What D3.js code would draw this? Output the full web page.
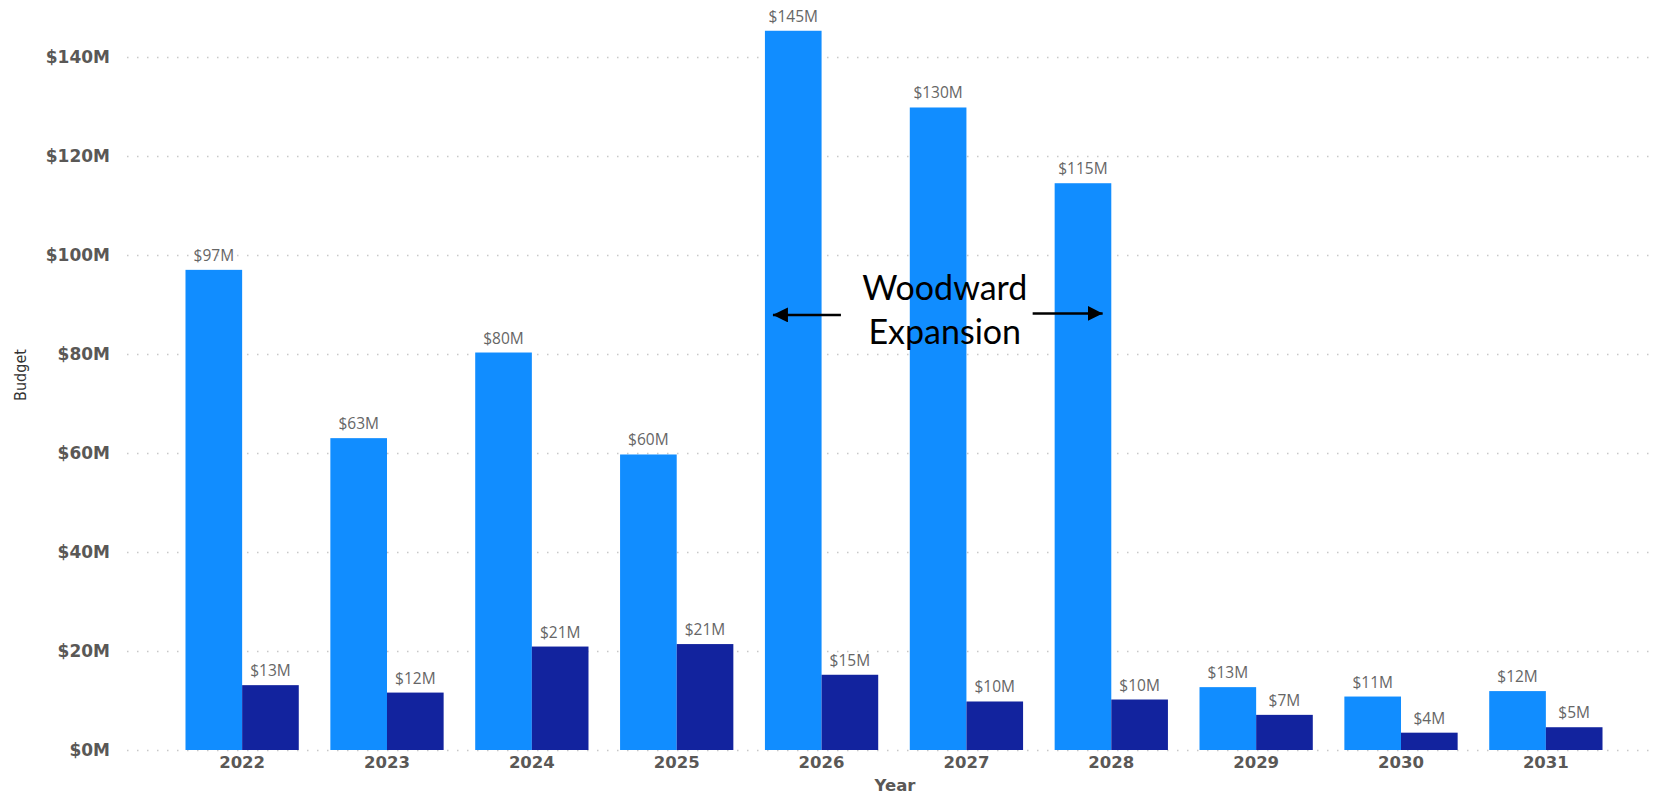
<!DOCTYPE html>
<html>
<head>
<meta charset="utf-8">
<script src="https://cdn.jsdelivr.net/npm/d3@7"></script>
<style>
  body { margin: 0; background: #fff; }
  svg { display: block; }
</style>
</head>
<body>
<svg id="canvas" width="1665" height="796"></svg>
<script>
// data (millions)
var years = ["2022", "2023", "2024", "2025", "2026", "2027", "2028", "2029", "2030", "2031"];
var seriesA = [97.0, 63.0, 80.3, 59.7, 145.3, 129.8, 114.5, 12.7, 10.8, 11.9];
var seriesB = [13.1, 11.6, 20.9, 21.4, 15.2, 9.8, 10.2, 7.1, 3.5, 4.6];
var yTicks = [0, 20, 40, 60, 80, 100, 120, 140];
var noteLines = ["Woodward", "Expansion"];

function drawChart() {
    "use strict";

    var svg = d3.select(document.getElementById('canvas'));
    var left = 129, right = 1659, bottom = 750;

    var x = d3.scaleBand().domain(years).range([left, right])
        .paddingInner(0.218).paddingOuter(0.39);
    var xSub = d3.scaleBand().domain(["a", "b"]).range([0, x.bandwidth()]);
    var y = d3.scaleLinear().domain([0, 148.5]).range([bottom, bottom - 148.5 * 4.95]);

    var rows = years.map(function(yr, i) {
        return {year: yr, a: seriesA[i], b: seriesB[i]};
    });

    // gridlines (dotted)
    svg.append('g').selectAll('line')
        .data(yTicks)
        .enter().append('line')
        .attr('x1', 127).attr('x2', 1656)
        .attr('y1', function(d) { return y(d) + 0.5; })
        .attr('y2', function(d) { return y(d) + 0.5; })
        .attr('stroke', '#c8c8c8')
        .attr('stroke-width', 1.5)
        .attr('stroke-dasharray', '1.5,8.5');

    // y tick labels
    svg.append('g').selectAll('text')
        .data(yTicks)
        .enter().append('text')
        .attr('x', 110)
        .attr('y', function(d) { return y(d); })
        .attr('dy', '0.36em')
        .attr('text-anchor', 'end')
        .attr('font-family', 'DejaVu Sans')
        .attr('font-weight', 'bold')
        .attr('font-size', 17)
        .attr('fill', '#5a5856')
        .text(function(d) { return '$' + d + 'M'; });

    // bars
    var groups = svg.append('g').selectAll('g')
        .data(rows)
        .enter().append('g')
        .attr('transform', function(d) { return 'translate(' + x(d.year) + ',0)'; });

    var fills = {a: '#118dff', b: '#12239e'};
    ['a', 'b'].forEach(function(k) {
        groups.append('rect')
            .attr('x', xSub(k))
            .attr('width', xSub.bandwidth())
            .attr('y', function(d) { return y(d[k]); })
            .attr('height', function(d) { return y(0) - y(d[k]); })
            .attr('fill', fills[k]);

        groups.append('text')
            .attr('x', xSub(k) + xSub.bandwidth() / 2)
            .attr('y', function(d) { return y(d[k]) - 9; })
            .attr('text-anchor', 'middle')
            .attr('font-family', 'Open Sans')
            .attr('font-size', 15.5)
            .attr('fill', '#666')
            .text(function(d) { return '$' + Math.round(d[k]) + 'M'; });
    });

    // x tick labels
    svg.append('g').selectAll('text')
        .data(years)
        .enter().append('text')
        .attr('x', function(d) { return x(d) + x.bandwidth() / 2; })
        .attr('y', 768)
        .attr('text-anchor', 'middle')
        .attr('font-family', 'DejaVu Sans')
        .attr('font-weight', 'bold')
        .attr('font-size', 16.5)
        .attr('fill', '#5a5856')
        .text(function(d) { return d; });

    // axis titles
    svg.append('text')
        .attr('x', 895).attr('y', 791)
        .attr('text-anchor', 'middle')
        .attr('font-family', 'DejaVu Sans')
        .attr('font-weight', 'bold')
        .attr('font-size', 16.5)
        .attr('fill', '#5a5856')
        .text('Year');

    svg.append('text')
        .attr('transform', 'translate(26,375) rotate(-90)')
        .attr('text-anchor', 'middle')
        .attr('font-family', "'DejaVu Sans Condensed', 'DejaVu Sans', sans-serif")
        .attr('font-stretch', 'condensed')
        .attr('font-size', 16)
        .attr('fill', '#333')
        .text('Budget');

    // annotation
    var defs = svg.append('defs');
    defs.append('marker')
        .attr('id', 'head')
        .attr('viewBox', '0 0 10 10')
        .attr('refX', 10).attr('refY', 5)
        .attr('markerWidth', 6).attr('markerHeight', 6)
        .attr('markerUnits', 'strokeWidth')
        .attr('orient', 'auto')
        .append('path')
        .attr('d', 'M0,0L10,5L0,10Z')
        .attr('fill', '#000');

    var arrowY = y(88);
    var textX = x("2027") + 35;
    svg.append('line')
        .attr('x1', x("2026") + 76).attr('x2', x("2026") + 8)
        .attr('y1', arrowY + 0.5).attr('y2', arrowY + 0.5)
        .attr('stroke', '#000').attr('stroke-width', 2.5)
        .attr('marker-end', 'url(#head)');
    svg.append('line')
        .attr('x1', x("2028") - 22).attr('x2', x("2028") + 48)
        .attr('y1', arrowY - 1).attr('y2', arrowY - 1)
        .attr('stroke', '#000').attr('stroke-width', 2.5)
        .attr('marker-end', 'url(#head)');

    svg.append('g').selectAll('text')
        .data(noteLines)
        .enter().append('text')
        .attr('x', textX)
        .attr('y', function(d, i) { return 300 + i * 44; })
        .attr('text-anchor', 'middle')
        .attr('font-family', 'Lato')
        .attr('font-size', 34)
        .attr('fill', '#000')
        .text(function(d) { return d; });
}

drawChart();
</script>
</body>
</html>
